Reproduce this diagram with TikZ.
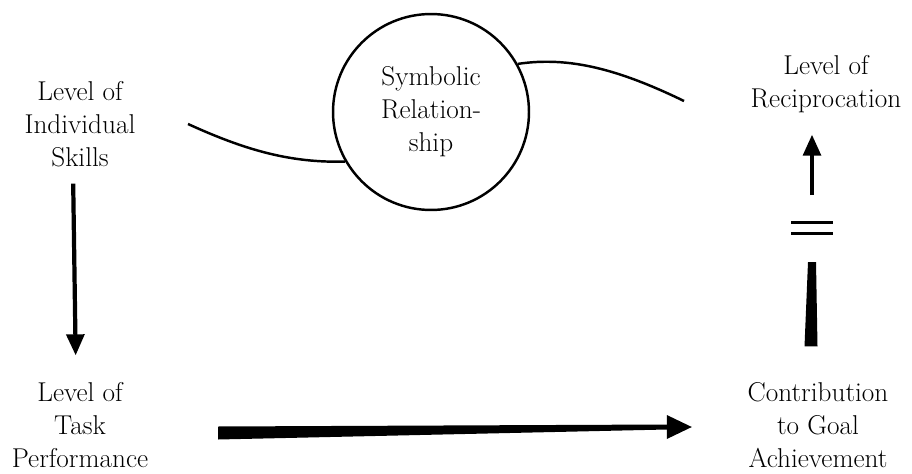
\documentclass[tikz,border=0pt]{standalone}
\usetikzlibrary{arrows.meta,positioning,calc}

\begin{document}
\begin{tikzpicture}[
    x=0.02cm, y=-0.02cm,
    label/.style={align=center, font=\fontsize{15.5}{18.8}\selectfont, inner sep=2pt},
    link/.style={line width=1.4pt},
    arrow/.style={line width=2.4pt, -{Triangle[length=12pt,width=10pt]}}
]
\useasboundingbox (0,0) rectangle (912,473);

% Variables
\node[label] (skills) at (80,124) {Level of\\Individual\\Skills};
\node[label] (task) at (80,425) {Level of\\Task\\Performance};
\node[label] (recip) at (826,84) {Level of\\Reciprocation};
\node[label] (goal) at (818,425) {Contribution\\to Goal\\Achievement};

% Symbolic relationship
\node[label, circle, draw, line width=1.4pt, minimum size=3.92cm] (sym) at (431,112) {Symbolic\\Relation-\\ship};

% Free ends of the curves
\coordinate (leftend) at (188,124);
\coordinate (rightend) at (684,101);
\draw[link] (leftend) .. controls (245,150) and (290,163) .. (sym.210);
\draw[link] (sym.29) .. controls (570,56) and (620,70) .. (rightend);

% Skills to performance
\draw[arrow, shorten <=13*0.02cm, shorten >=23*0.02cm]
    ([xshift=-0.14cm]skills.south) -- ([xshift=-0.08cm]task.north);

% Performance to goal achievement
\coordinate (hs) at ($(task.east)+(66,8)$);
\coordinate (he) at ($(goal.west)+(-77,2)$);
\fill ($(hs)+(0,-6.5)$) -- ($(he)+(0,-2.5)$) -- ($(he)+(0,2.5)$) -- ($(hs)+(0,6.5)$) -- cycle;
\fill ($(he)+(0,-12)$) -- ($(he)+(25,0)$) -- ($(he)+(0,12)$) -- cycle;

% Goal achievement to reciprocation
\coordinate (eq) at (812,228);
\fill ($(goal.north)+(-13.5,-32)$) -- ($(eq)+(-4,34)$) -- ($(eq)+(4,34)$) -- ($(goal.north)+(-0.5,-32)$) -- cycle;
\draw[line width=1.5pt] ($(eq)+(-21,-5.5)$) -- ($(eq)+(21,-5.5)$);
\draw[line width=1.5pt] ($(eq)+(-21,5.5)$) -- ($(eq)+(21,5.5)$);
\draw[arrow, shorten >=18*0.02cm] ($(eq)+(0,-33)$) -- (recip.south -| eq);

\end{tikzpicture}
\end{document}
